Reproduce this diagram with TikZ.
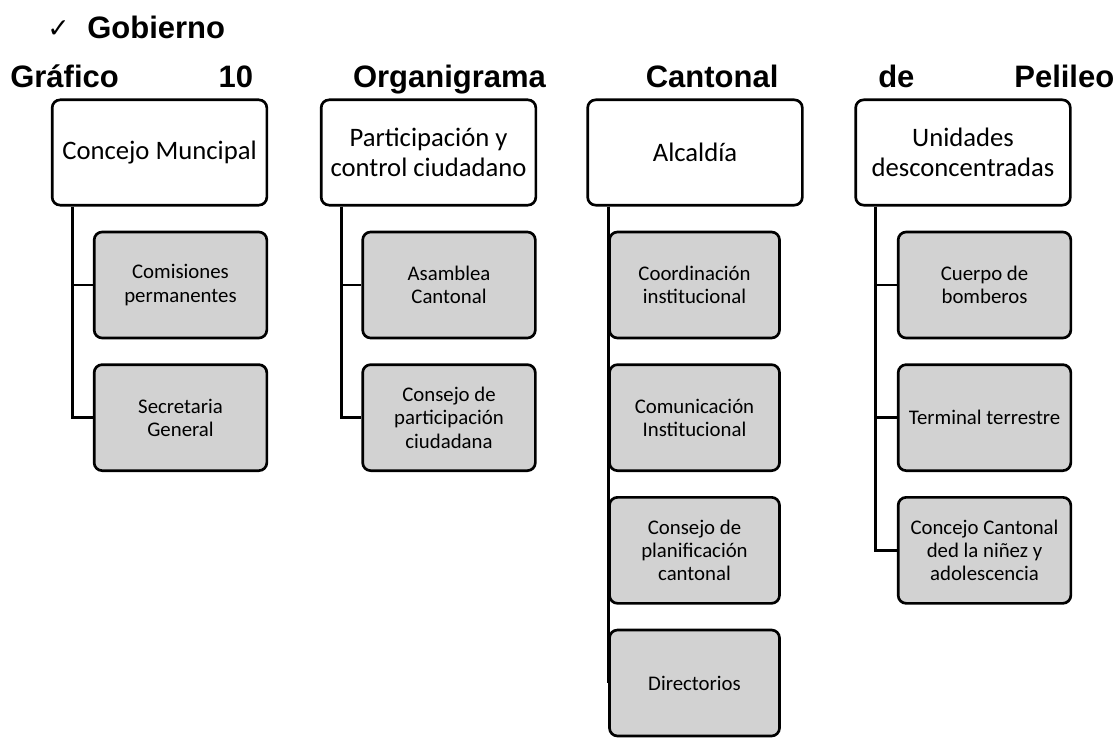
\documentclass[tikz,border=0pt]{standalone}
\usepackage{fontspec}
\setmainfont{Carlito}
\newfontfamily\titlefont{Liberation Sans}
\newfontfamily\symbfont{DejaVu Sans}
\usepackage{xcolor}
\definecolor{unitgray}{RGB}{210,210,210}
\tikzstyle{headbox} = [rectangle, rounded corners=6pt, minimum width=161pt, minimum height=79pt, align=center, draw=black, line width=2pt, fill=white, font=\fontsize{20}{22.5}\selectfont]
\tikzstyle{unitbox} = [rectangle, rounded corners=6pt, minimum width=129.5pt, minimum height=79.5pt, align=center, draw=black, line width=2pt, fill=unitgray, font=\fontsize{15.6}{17.5}\selectfont]
\tikzstyle{branch} = [line width=2pt]
\tikzstyle{heading} = [anchor=base west, inner sep=0pt, font=\titlefont\bfseries\fontsize{23.25}{28}\selectfont]

\begin{document}
\begin{tikzpicture}[x=0.75pt, y=-0.75pt, node distance=99.5pt]
            \useasboundingbox (0,0) rectangle (1116,738);
            % titles
            \node(checkmark) [anchor=base west, inner sep=0pt, font=\symbfont\fontsize{20}{20}\selectfont] at (47,38) {✓};
            \node(gobierno) [heading] at (87,39) {Gobierno};
            \node(caption) [heading] at (10,88) {\makebox[828pt][s]{Gráfico 10 Organigrama Cantonal de Pelileo}};
            % top level
            \node(concejo) [headbox] at (159.5,152.5) {Concejo Muncipal};
            \node(participacion) [headbox] at (428.5,152.5) {Participación y\\control ciudadano};
            \node(alcaldia) [headbox] at (695,152.5) {Alcaldía};
            \node(unidades) [headbox] at (963,152.5) {Unidades\\desconcentradas};
            % units
            \node(comisiones) [unitbox] at (180.5,285) {Comisiones\\permanentes};
            \node(secretaria) [unitbox, below of=comisiones] {Secretaria\\General};
            \node(asamblea) [unitbox] at (449,285) {Asamblea\\Cantonal};
            \node(consejopart) [unitbox, below of=asamblea] {Consejo de\\participación\\ciudadana};
            \node(coordinacion) [unitbox, minimum width=127.5pt] at (694.5,285) {Coordinación\\institucional};
            \node(comunicacion) [unitbox, minimum width=127.5pt, below of=coordinacion] {Comunicación\\Institucional};
            \node(planificacion) [unitbox, minimum width=127.5pt, below of=comunicacion] {Consejo de\\planificación\\cantonal};
            \node(directorios) [unitbox, minimum width=127.5pt, below of=planificacion] {Directorios};
            \node(bomberos) [unitbox] at (984.5,285) {Cuerpo de\\bomberos};
            \node(terminal) [unitbox, below of=bomberos] {Terminal terrestre};
            \node(ninez) [unitbox, below of=terminal] {Concejo Cantonal\\ded la niñez y\\adolescencia};
            % branches
            \draw[branch] ([xshift=16pt]concejo.south west) |- (comisiones.west);
            \draw[branch] ([xshift=16pt]concejo.south west) |- (secretaria.west);
            \draw[branch] ([xshift=16pt]participacion.south west) |- (asamblea.west);
            \draw[branch] ([xshift=16pt]participacion.south west) |- (consejopart.west);
            \draw[branch] ([xshift=16.5pt]alcaldia.south west) |- (coordinacion.west);
            \draw[branch] ([xshift=16.5pt]alcaldia.south west) |- (comunicacion.west);
            \draw[branch] ([xshift=16.5pt]alcaldia.south west) |- (planificacion.west);
            \draw[branch] ([xshift=16.5pt]alcaldia.south west) |- (directorios.west);
            \draw[branch] ([xshift=16pt]unidades.south west) |- (bomberos.west);
            \draw[branch] ([xshift=16pt]unidades.south west) |- (terminal.west);
            \draw[branch] ([xshift=16pt]unidades.south west) |- (ninez.west);
        \end{tikzpicture}
\end{document}
